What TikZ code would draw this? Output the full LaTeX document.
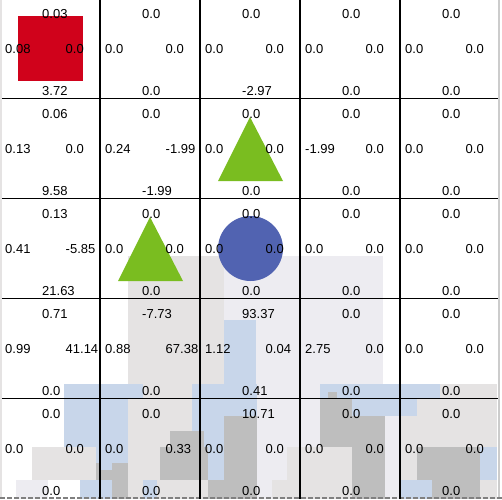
\documentclass[tikz,border=0pt]{standalone}
\usepackage{fontspec}
\setmainfont{Liberation Sans}
\definecolor{gA}{RGB}{229,227,227}
\definecolor{lav}{RGB}{237,236,241}
\definecolor{bl}{RGB}{200,214,234}
\definecolor{dg}{RGB}{190,190,190}
\definecolor{redsq}{RGB}{208,2,27}
\definecolor{grn}{RGB}{122,189,32}
\definecolor{blu}{RGB}{81,99,177}
\begin{document}
\begin{tikzpicture}[x=1pt,y=-1pt,
  lbl/.style={anchor=base west, inner sep=0pt, font=\fontsize{13}{13}\selectfont},
  gridline/.style={line width=1.7pt, black}]
\useasboundingbox (0,0) rectangle (502,499);
\fill[white] (0,0) rectangle (502,499);
% background mosaic
\foreach \xa/\ya/\xb/\yb/\cc in {
  128/256/224/384/gA, 224/256/383/384/lav, 224/320/256/384/bl,
  64/384/143/399/bl, 143/384/192/399/gA, 192/384/257/399/bl, 257/384/320/399/lav,
  320/384/440/399/bl, 328/392/337/399/dg, 440/384/497/399/gA,
  64/399/128/416/bl, 128/399/192/416/gA, 192/399/257/416/bl, 257/399/320/416/lav,
  320/399/352/416/dg, 352/399/417/416/bl, 417/399/497/416/gA,
  64/416/128/447/bl, 128/416/192/447/gA, 192/416/224/447/bl, 170/431/204/447/dg,
  224/416/257/447/dg, 257/416/320/447/lav, 320/416/385/447/dg, 385/416/400/447/lav,
  400/416/497/447/gA,
  32/447/96/480/gA, 96/447/128/463/bl, 96/463/128/480/dg, 100/463/112/470/bl,
  128/447/160/480/gA, 160/447/208/480/dg, 208/447/224/480/bl, 224/447/257/480/dg,
  257/447/287/480/lav, 287/447/352/480/gA, 352/447/385/480/dg, 385/447/400/480/lav,
  400/447/417/480/gA, 417/447/480/480/dg, 480/447/497/480/bl,
  16/480/48/499/lav, 80/480/112/499/bl, 112/480/128/499/dg, 128/480/143/499/gA,
  143/480/157/499/bl, 157/480/208/499/gA, 208/480/257/499/dg, 257/480/272/499/lav,
  272/480/352/499/gA, 352/480/385/499/dg, 385/480/400/499/lav, 400/480/432/499/bl,
  432/480/480/499/dg, 480/480/497/499/gA}
  \fill[\cc] (\xa,\ya) rectangle (\xb,\yb);
% edges
\fill[gA] (0,0) rectangle (2,499);
\draw[gray!40, line width=1.5pt] (499,0) -- (499,499);
\draw[gray, line width=1.5pt, dash pattern=on 5pt off 2pt] (0,498) -- (502,498);
% shapes
\fill[redsq] (18,16) rectangle (83,81);
\fill[grn] (250,117) -- (283,181) -- (218,181) -- cycle;
\fill[grn] (150,217) -- (183,281) -- (118,281) -- cycle;
\fill[blu] (250.5,248.5) circle[radius=32.5];
% grid
\foreach \gx in {100,200,300,400}
  \draw[gridline] (\gx,0) -- (\gx,499);
\foreach \gy in {98.5,198.5,298.5,398.5}
  \draw[gridline] (2,\gy) -- (498,\gy);
% labels
\foreach \rw/\cl/\vT/\vL/\vR/\vB in {
  0/0/0.03/0.08/0.0/3.72, 0/1/0.0/0.0/0.0/0.0, 0/2/0.0/0.0/0.0/-2.97, 0/3/0.0/0.0/0.0/0.0, 0/4/0.0/0.0/0.0/0.0,
  1/0/0.06/0.13/0.0/9.58, 1/1/0.0/0.24/-1.99/-1.99, 1/2/0.0/0.0/0.0/0.0, 1/3/0.0/-1.99/0.0/0.0, 1/4/0.0/0.0/0.0/0.0,
  2/0/0.13/0.41/-5.85/21.63, 2/1/0.0/0.0/0.0/0.0, 2/2/0.0/0.0/0.0/0.0, 2/3/0.0/0.0/0.0/0.0, 2/4/0.0/0.0/0.0/0.0,
  3/0/0.71/0.99/41.14/0.0, 3/1/-7.73/0.88/67.38/0.0, 3/2/93.37/1.12/0.04/0.41, 3/3/0.0/2.75/0.0/0.0, 3/4/0.0/0.0/0.0/0.0,
  4/0/0.0/0.0/0.0/0.0, 4/1/0.0/0.0/0.33/0.0, 4/2/10.71/0.0/0.0/0.0, 4/3/0.0/0.0/0.0/0.0, 4/4/0.0/0.0/0.0/0.0}
{
  \pgfmathsetmacro\cx{100*\cl}
  \pgfmathsetmacro\cy{100*\rw-1.5}
  \node[lbl] (t\rw\cl) at (\cx+42,\cy+20) {\vT};
  \node[lbl] (l\rw\cl) at (\cx+5,\cy+55) {\vL};
  \node[lbl] (r\rw\cl) at (\cx+65.5,\cy+55) {\vR};
  \node[lbl] (b\rw\cl) at (\cx+42,\cy+97) {\vB};
}
\end{tikzpicture}
\end{document}
